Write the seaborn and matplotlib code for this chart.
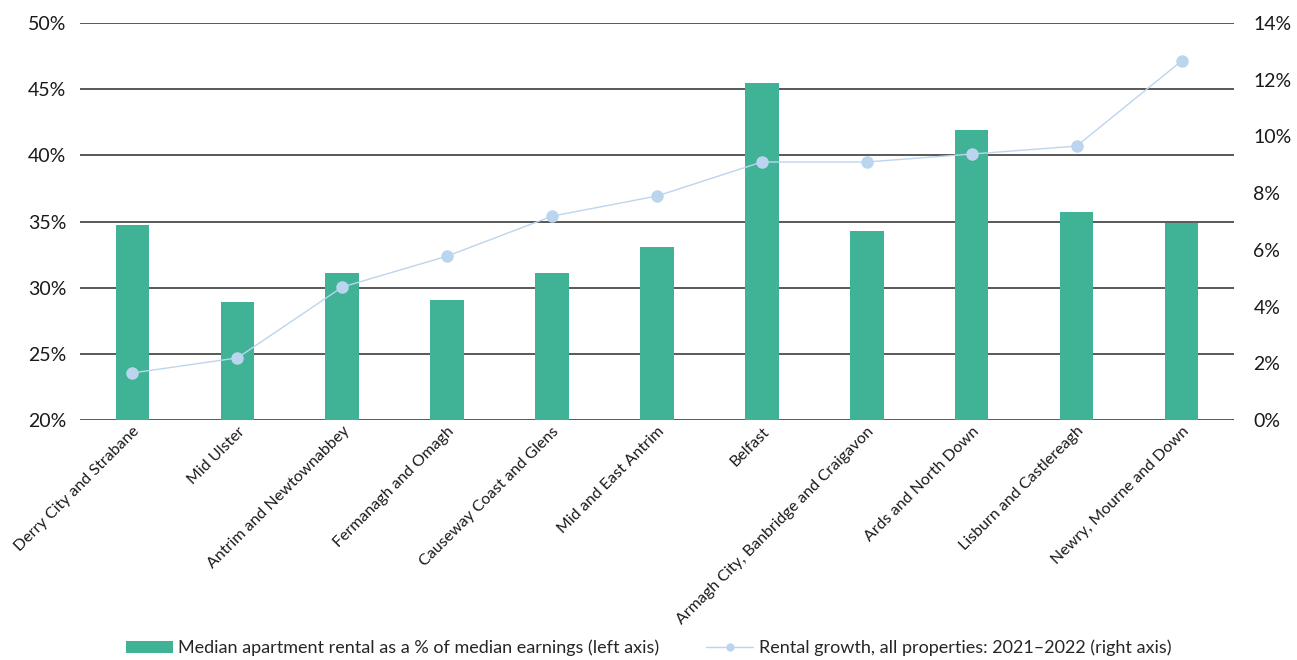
import matplotlib
matplotlib.use("Agg")
import matplotlib.pyplot as plt
import seaborn as sns
import pandas as pd
from matplotlib.ticker import FuncFormatter
from matplotlib.patches import Patch
from matplotlib.lines import Line2D

regions = [
    "Derry City and Strabane", "Mid Ulster", "Antrim and Newtownabbey",
    "Fermanagh and Omagh", "Causeway Coast and Glens", "Mid and East Antrim",
    "Belfast", "Armagh City, Banbridge and Craigavon", "Ards and North Down",
    "Lisburn and Castlereagh", "Newry, Mourne and Down",
]
rent_share = [34.7, 28.9, 31.1, 29.1, 31.1, 33.1, 45.5, 34.3, 41.9, 35.7, 34.9]
rental_growth = [1.66, 2.19, 4.69, 5.78, 7.19, 7.9, 9.1, 9.1, 9.38, 9.66, 12.66]

bar_label = "Median apartment rental as a % of median earnings (left axis)"
line_label = "Rental growth, all properties: 2021\u20132022 (right axis)"

df = pd.DataFrame({"region": regions, "share": rent_share, "growth": rental_growth})

sns.set_theme(style="white")
plt.rcParams["font.family"] = ["Lato", "DejaVu Sans"]

green = "#40b397"
blue = "#bcd5ef"

fig = plt.figure(figsize=(12.97, 6.6), dpi=100)
ax = fig.add_axes([0.0617, 0.3636, 0.8897, 0.6015])

for v in range(20, 51, 5):
    ax.axhline(v, color="#2b2b2b", lw=1.1, zorder=0)

sns.barplot(data=df, x="region", y="share", color=green, width=0.32,
            saturation=1, linewidth=0, edgecolor="none", ax=ax, zorder=2)
ax.set_ylim(20, 50)
ax.set_xlim(-0.5, len(regions) - 0.5)
ax.set_yticks(range(20, 51, 5))
ax.yaxis.set_major_formatter(FuncFormatter(lambda v, p: f"{v:.0f}%"))
ax.set_xlabel("")
ax.set_ylabel("")
for s in ax.spines.values():
    s.set_visible(False)
ax.tick_params(axis="y", labelsize=14, colors="#1a1a1a", length=0, pad=10)
ax.tick_params(axis="x", length=0, pad=3)
ax.set_xticks(range(len(regions)))
ax.set_xticklabels(regions, rotation=45, ha="right", rotation_mode="anchor",
                   fontsize=11.5, color="#1a1a1a")

ax2 = ax.twinx()
sns.lineplot(data=df, x="region", y="growth", color=blue, lw=1.0, marker="o",
             markersize=9, markeredgewidth=0, ax=ax2, zorder=3, sort=False)
ax2.set_ylim(0, 14)
ax2.set_yticks(range(0, 15, 2))
ax2.yaxis.set_major_formatter(FuncFormatter(lambda v, p: f"{v:.0f}%"))
ax2.set_ylabel("")
ax2.set_xlabel("")
for s in ax2.spines.values():
    s.set_visible(False)
ax2.tick_params(axis="y", labelsize=14, colors="#1a1a1a", length=0, pad=14)
ax2.grid(False)
ax.grid(False)

handles = [
    Patch(facecolor=green, edgecolor="none", label=bar_label),
    Line2D([0], [0], color=blue, lw=1.0, marker="o", markersize=6,
           markeredgewidth=0, label=line_label),
]
fig.legend(handles=handles, loc="center", bbox_to_anchor=(0.5, 0.018),
           ncol=2, frameon=False, fontsize=13, handlelength=2.6,
           handleheight=0.7, columnspacing=2.6, handletextpad=0.3)

fig.savefig("out.png", dpi=100)
